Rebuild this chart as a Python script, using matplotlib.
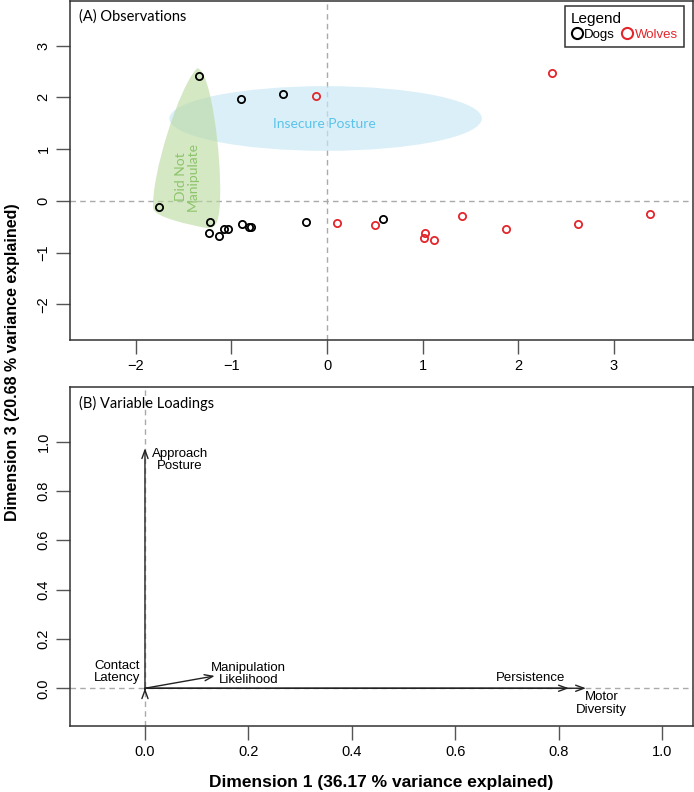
import numpy as np
import matplotlib
matplotlib.use("Agg")
import matplotlib.pyplot as plt
from matplotlib.patches import Ellipse, PathPatch
from matplotlib.path import Path
from matplotlib.lines import Line2D

plt.rcParams['font.family'] = ['Liberation Sans', 'DejaVu Sans']

# Panel A: observation scores (Dimension 1, Dimension 3)
dogs_x = [-1.34, -0.90, -0.46, -1.76, -1.23, -1.24, -1.13, -1.08, -1.04, -0.89, -0.82, -0.80, -0.22, 0.59]
dogs_y = [2.42, 1.96, 2.07, -0.12, -0.41, -0.62, -0.69, -0.54, -0.54, -0.45, -0.51, -0.51, -0.41, -0.36]
wolves_x = [-0.12, 2.35, 0.10, 0.50, 1.03, 1.02, 1.12, 1.41, 1.87, 2.63, 3.38]
wolves_y = [2.03, 2.47, -0.42, -0.47, -0.62, -0.71, -0.75, -0.29, -0.55, -0.44, -0.26]

# Panel B: variable loadings
var_names = ["Approach\nPosture", "Contact\nLatency", "Manipulation\nLikelihood",
             "Persistence", "Motor\nDiversity"]
load_x = [0.0, 0.0, 0.135, 0.82, 0.853]
load_y = [0.973, 0.0, 0.05, 0.0, 0.0]

red = "#e3262b"
title_font = ['Lato', 'DejaVu Sans']

fig = plt.figure(figsize=(6.94, 7.92), dpi=100)
W, H = 694, 792
axA = fig.add_axes([70 / W, 1 - 340 / H, 623 / W, 339 / H])
axB = fig.add_axes([70 / W, 1 - 726 / H, 623 / W, 339 / H])

for ax in (axA, axB):
    ax.axhline(0, color="#aaaaaa", ls=(0, (4, 3)), lw=1, zorder=1)
    ax.axvline(0, color="#aaaaaa", ls=(0, (4, 3)), lw=1, zorder=1)
    for s in ax.spines.values():
        s.set_color("#333333")
        s.set_linewidth(1.1)
    ax.tick_params(direction="out", length=10, width=1, color="#555555",
                   labelsize=10.5, pad=4)

# ---- panel A ----
axA.set_xlim(-2.69, 3.83)
axA.set_ylim(-2.69, 3.86)
axA.set_xticks([-2, -1, 0, 1, 2, 3])
axA.set_yticks([-2, -1, 0, 1, 2, 3])
axA.set_yticklabels(["\u22122", "\u22121", "0", "1", "2", "3"], rotation=90, va="center")
axA.set_xticklabels(["\u22122", "\u22121", "0", "1", "2", "3"])

# insecure posture ellipse
ell = Ellipse((-0.015, 1.59), 3.27, 1.25, facecolor="#c9e8f6", edgecolor="none",
              alpha=0.68, zorder=2)
axA.add_patch(ell)
axA.text(-0.03, 1.48, "Insecure Posture", color="#5cc3ea", fontsize=10,
         family=title_font, ha="center", va="center", zorder=3)

# did not manipulate teardrop
verts = [(-1.36, 2.56),
         (-1.22, 2.55), (-1.10, 0.9), (-1.12, 0.0),
         (-1.13, -0.45), (-1.17, -0.56), (-1.28, -0.52),
         (-1.45, -0.46), (-1.80, -0.32), (-1.82, -0.15),
         (-1.84, 0.5), (-1.55, 2.2), (-1.36, 2.56)]
codes = [Path.MOVETO] + [Path.CURVE4] * 12
green = PathPatch(Path(verts, codes), facecolor="#b9d99e", edgecolor="none",
                  alpha=0.6, zorder=2)
axA.add_patch(green)
axA.text(-1.47, 0.47, "Did Not\nManipulate", color="#8cc46a", fontsize=10,
         family=title_font, rotation=90, ha="center", va="center",
         linespacing=1.0, zorder=3)

axA.plot(dogs_x, dogs_y, "o", mfc="none", mec="black", ms=5.2, mew=1.3, zorder=4)
axA.plot(wolves_x, wolves_y, "o", mfc="none", mec=red, ms=5.2, mew=1.3, zorder=4)

axA.text(0.015, 0.975, "(A) Observations", transform=axA.transAxes,
         fontsize=10.5, family=title_font, ha="left", va="top")

handles = [Line2D([], [], ls="none", marker="o", mfc="none", mec="black", ms=8, mew=1.5),
           Line2D([], [], ls="none", marker="o", mfc="none", mec=red, ms=8, mew=1.5)]
leg = axA.legend(handles, ["Dogs", "Wolves"], title="Legend", ncol=2,
                 loc="upper right", bbox_to_anchor=(0.985, 0.985),
                 labelcolor=["black", red], fontsize=9.5, title_fontsize=11,
                 handletextpad=0.1, columnspacing=0.5, handlelength=0.9,
                 borderpad=0.45, labelspacing=0.2, fancybox=False, framealpha=1,
                 edgecolor="#333333", borderaxespad=0)
leg._legend_box.align = "left"
leg.get_frame().set_linewidth(1.1)

# ---- panel B ----
axB.set_xlim(-0.145, 1.06)
axB.set_ylim(-0.153, 1.221)
axB.set_xticks([0.0, 0.2, 0.4, 0.6, 0.8, 1.0])
axB.set_xticklabels(["0.0", "0.2", "0.4", "0.6", "0.8", "1.0"])
axB.set_yticks([0.0, 0.2, 0.4, 0.6, 0.8, 1.0])
axB.set_yticklabels(["0.0", "0.2", "0.4", "0.6", "0.8", "1.0"], rotation=90, va="center")

for i, name in enumerate(var_names):
    x, y = load_x[i], load_y[i]
    if x == 0 and y == 0:
        start = (0, -0.003)
    else:
        start = (0, 0)
    axB.annotate("", xy=(x, y), xytext=start,
                 arrowprops=dict(arrowstyle="->,head_length=0.6,head_width=0.22",
                                 color="#222222", lw=1.0, shrinkA=0, shrinkB=0),
                 zorder=3)

label_pos = [(0.067, 0.926), (-0.054, 0.065), (0.2, 0.057), (0.745, 0.043), (0.883, -0.061)]
for name, (lx, ly) in zip(var_names, label_pos):
    axB.text(lx, ly, name, fontsize=9.5, ha="center", va="center", linespacing=1.05)

axB.text(0.015, 0.975, "(B) Variable Loadings", transform=axB.transAxes,
         fontsize=10.5, family=title_font, ha="left", va="top")

fig.text(381.5 / W, 1 - 782 / H, "Dimension 1 (36.17 % variance explained)",
         fontsize=12.5, fontweight="bold", ha="center", va="center")
fig.text(13 / W, 1 - 362 / H, "Dimension 3 (20.68 % variance explained)",
         fontsize=11.5, fontweight="bold", ha="center", va="center", rotation=90)

fig.savefig("out.png", dpi=100)
